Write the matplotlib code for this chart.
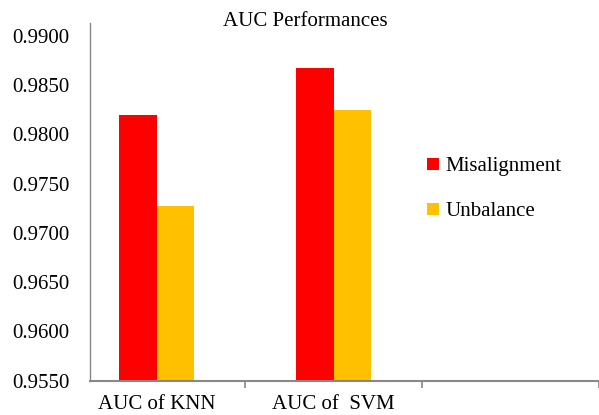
import matplotlib
matplotlib.use("Agg")
import matplotlib.pyplot as plt
import numpy as np

plt.rcParams['font.family'] = ['Liberation Serif', 'DejaVu Serif']

categories = ["AUC of KNN", "AUC of  SVM"]
series_names = ["Misalignment", "Unbalance"]
misalignment = [0.9820, 0.9867]
unbalance = [0.9727, 0.9825]
y_ticks = [0.9550, 0.9600, 0.9650, 0.9700, 0.9750, 0.9800, 0.9850, 0.9900]
colors = ["#FF0000", "#FFC000"]

W, H = 599, 415
fig = plt.figure(figsize=(W / 100, H / 100), dpi=100)
ax = fig.add_axes([90 / W, (H - 380.7) / H, (W - 90) / W, (380.7 - 23) / H])

x = np.arange(len(categories))
bw = 0.2135
ax.bar(x - bw / 2, misalignment, width=bw, color=colors[0], label=series_names[0])
ax.bar(x + bw / 2, unbalance, width=bw, color=colors[1], label=series_names[1])

ax.set_ylim(0.9550, 0.9913)
ax.set_xlim(-0.376, 2.483)
ax.set_yticks(y_ticks)
ax.set_yticklabels([f"{v:.4f}" for v in y_ticks], fontsize=15)
ax.tick_params(axis='y', length=0, pad=15)

ax.set_xticks(x)
ax.set_xticklabels(categories, fontsize=15)
ax.set_xticks([0.5, 1.5, 2.5], minor=True)
ax.tick_params(axis='x', which='major', length=0, pad=10)
ax.tick_params(axis='x', which='minor', length=5, color="#888888", width=1.2)

for s in ["top", "right"]:
    ax.spines[s].set_visible(False)
for s in ["left", "bottom"]:
    ax.spines[s].set_color("#888888")
ax.spines["left"].set_linewidth(1.0)
ax.spines["bottom"].set_linewidth(1.5)

fig.text(305 / W, 1 - 22 / H, "AUC Performances", ha="center", va="center", fontsize=15)

leg = ax.legend(loc="upper left", bbox_to_anchor=((417 - 90) / (W - 90), (380.7 - 147) / (380.7 - 23)),
                frameon=False, fontsize=15, handlelength=0.55, handleheight=0.55,
                handletextpad=0.3, labelspacing=1.25, borderpad=0)

fig.savefig("out.png", dpi=100)
